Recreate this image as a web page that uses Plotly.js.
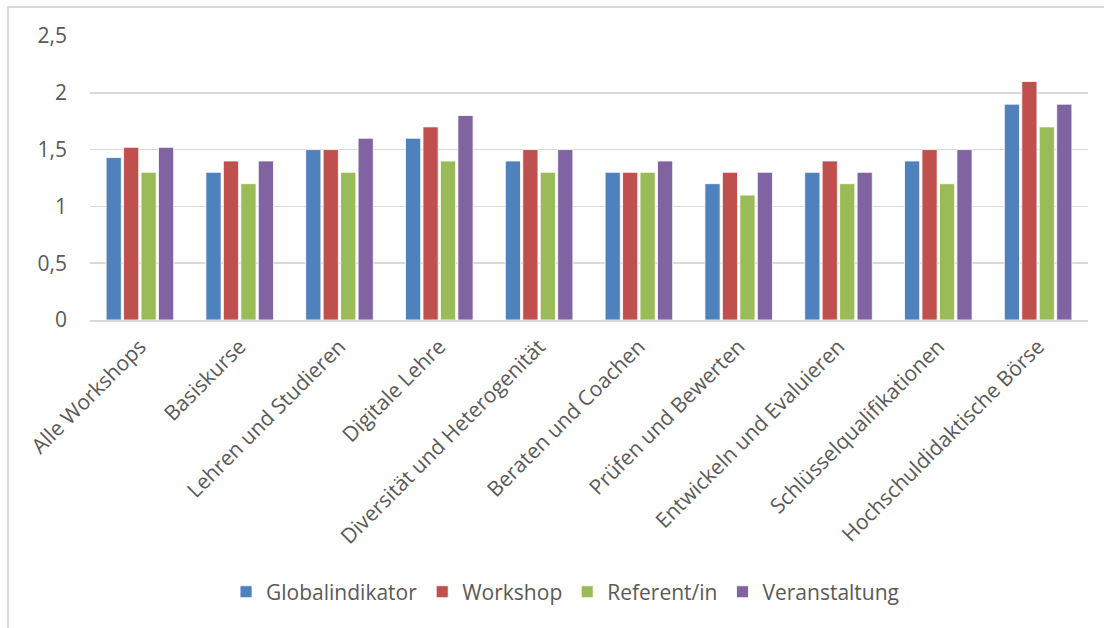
<!DOCTYPE html>
<html>
<head>
<meta charset="utf-8">
<script src="https://cdn.plot.ly/plotly-3.0.1.min.js"></script>
<style>
  html, body { margin: 0; padding: 0; background: #fff; }
  #frame { position: absolute; left: 7px; top: 6px; width: 1097px; height: 622px;
           border-left: 2px solid #d9d9d9; border-top: 2px solid #d9d9d9; box-sizing: border-box; }
  #chart { position: absolute; left: 0; top: 0; width: 1104px; height: 628px; }
</style>
</head>
<body>
<div id="frame"></div>
<div id="chart"></div>
<script>
const categories = [
  "Alle Workshops", "Basiskurse", "Lehren und Studieren", "Digitale Lehre",
  "Diversität und Heterogenität", "Beraten und Coachen", "Prüfen und Bewerten",
  "Entwickeln und Evaluieren", "Schlüsselqualifikationen", "Hochschuldidaktische Börse"
];
const globalindikator = [1.43, 1.3, 1.5, 1.6, 1.4, 1.3, 1.2, 1.3, 1.4, 1.9];
const workshop        = [1.52, 1.4, 1.5, 1.7, 1.5, 1.3, 1.3, 1.4, 1.5, 2.1];
const referent        = [1.3, 1.2, 1.3, 1.4, 1.3, 1.3, 1.1, 1.2, 1.2, 1.7];
const veranstaltung   = [1.52, 1.4, 1.6, 1.8, 1.5, 1.4, 1.3, 1.3, 1.5, 1.9];
const seriesNames = ["Globalindikator", "Workshop", "Referent/in", "Veranstaltung"];
const seriesColors = ["#4F81BD", "#C0504D", "#9BBB59", "#8064A2"];
const yTicks = [0, 0.5, 1, 1.5, 2, 2.5];

const allSeries = [globalindikator, workshop, referent, veranstaltung];
const traces = allSeries.map((vals, i) => ({
  type: "bar",
  name: seriesNames[i],
  x: categories,
  y: vals,
  marker: { color: seriesColors[i], line: { color: "rgba(255,255,255,0.8)", width: 1 } },
  hoverinfo: "x+y+name"
}));

const font = "'Open Sans', 'Noto Sans', sans-serif";
const layout = {
  width: 1104, height: 628,
  margin: { l: 90, r: 16, t: 36, b: 308 },
  paper_bgcolor: "rgba(0,0,0,0)",
  plot_bgcolor: "rgba(0,0,0,0)",
  separators: ",.",
  barmode: "group",
  bargap: 0.3,
  bargroupgap: 0.13,
  font: { family: font, color: "#595959", size: 16 },
  xaxis: {
    type: "category",
    tickangle: -45,
    tickfont: { family: font, size: 21, color: "#595959" },
    showgrid: false,
    showline: true,
    linecolor: "#d9d9d9",
    linewidth: 2,
    ticks: "",
    ticklabelstandoff: 4,
    fixedrange: true
  },
  yaxis: {
    range: [0, 2.5],
    tickvals: yTicks,
    tickfont: { family: font, size: 21, color: "#595959" },
    showgrid: true,
    gridcolor: "#d9d9d9",
    gridwidth: 1.5,
    zeroline: false,
    showline: false,
    ticks: "",
    ticklabelstandoff: 22,
    fixedrange: true
  },
  showlegend: true,
  legend: {
    orientation: "h",
    x: 0.476, xanchor: "center",
    y: -0.958, yanchor: "middle",
    font: { family: font, size: 21, color: "#595959" },
    itemwidth: 30,
    traceorder: "normal"
  }
};

Plotly.newPlot("chart", traces, layout, { displayModeBar: false, staticPlot: true });
</script>
</body>
</html>
